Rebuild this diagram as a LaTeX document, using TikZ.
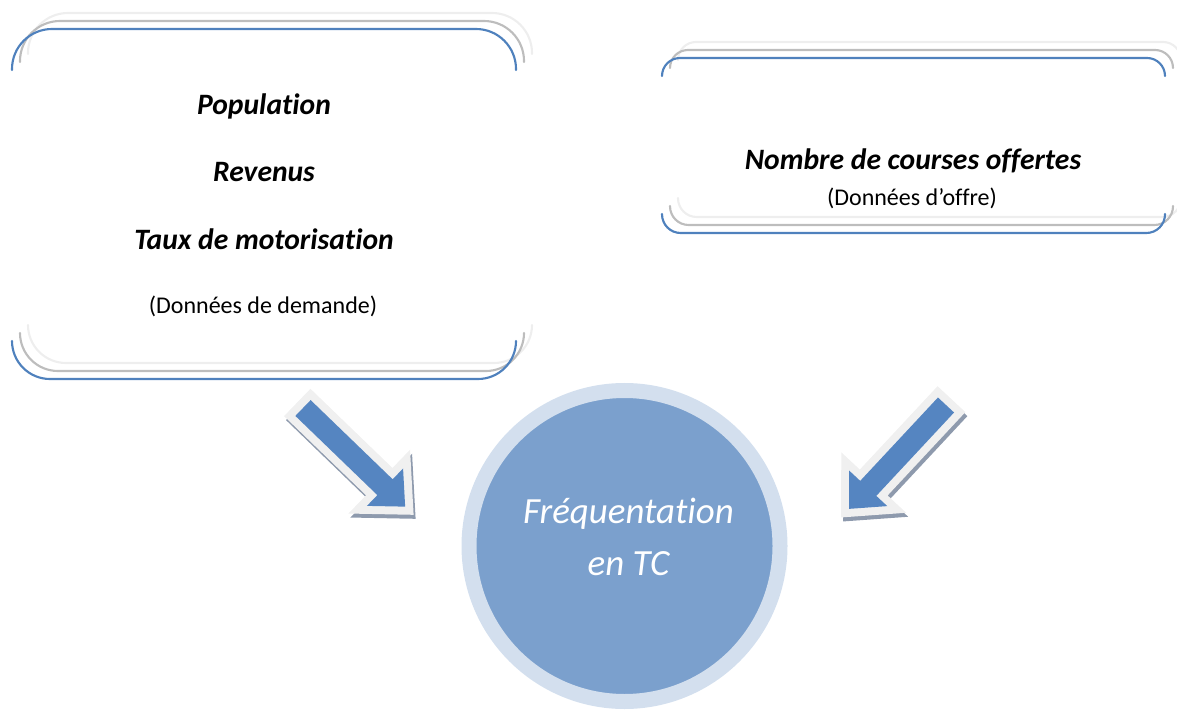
\documentclass[tikz,border=0pt]{standalone}
\usepackage{fontspec}
\setmainfont{Carlito}[Ligatures=CommonOff]
\usetikzlibrary{positioning, calc}

\definecolor{boxblue}{HTML}{4F81BD}
\definecolor{boxgray}{HTML}{BDBDBD}
\definecolor{boxlight}{HTML}{EEEEEE}
\definecolor{arrowfill}{HTML}{5585C1}
\definecolor{arrowglow}{HTML}{F0F0F0}
\definecolor{arrowshadow}{HTML}{8E9AAD}
\definecolor{ringlight}{HTML}{D3DFEE}
\definecolor{discblue}{HTML}{7BA0CD}

\begin{document}
\begin{tikzpicture}[
    x=0.75pt, y=-0.75pt,
    bracket/.style={line width=1.6pt, line cap=round},
    keytext/.style={font=\fontsize{22.2}{26}\selectfont\bfseries\itshape, anchor=base},
    srctext/.style={font=\fontsize{18}{22}\selectfont, anchor=base},
    glowline/.style={line width=12pt, line join=miter}
]
    \useasboundingbox (0,0) rectangle (1177,716);

    % === Demand box (three stacked outlines) ===
    \foreach \d/\c in {16/boxlight, 8/boxgray, 0/boxblue} {
        \draw[bracket, \c, rounded corners=30pt]
            ({12+\d},{70-\d}) -- ({12+\d},{29-\d}) -- ({516+\d},{29-\d}) -- ({516+\d},{70-\d});
        \draw[bracket, \c, rounded corners=28.5pt]
            ({12+\d},{341-\d}) -- ({12+\d},{379-\d}) -- ({516+\d},{379-\d}) -- ({516+\d},{341-\d});
    }
    \node[keytext] (pop) at (264,115) {Population};
    \node[keytext] (rev) at (264,182) {Revenus};
    \node[keytext] (taux) at (264,250) {Taux de motorisation};
    \node[srctext] (demande) at (263,314) {(Données de demande)};

    % === Supply box ===
    \foreach \d/\c in {16/boxlight, 8/boxgray, 0/boxblue} {
        \draw[bracket, \c, rounded corners=13.5pt]
            ({662+\d},{76-\d}) -- ({662+\d},{58-\d}) -- ({1165+\d},{58-\d}) -- ({1165+\d},{76-\d});
        \draw[bracket, \c, rounded corners=14pt]
            ({662+\d},{214-\d}) -- ({662+\d},{233-\d}) -- ({1165+\d},{233-\d}) -- ({1165+\d},{214-\d});
    }
    \node[keytext] (nombre) at (913,170) {Nombre de courses offertes};
    \node[srctext] (offre) at (912,206) {(Données d’offre)};

    % === Ridership disc ===
    \node[circle, draw=ringlight, fill=discblue, line width=11.25pt, minimum size=233.25pt] (freq) at (624.5,546) {};
    \node[font=\fontsize{27.7}{39}\selectfont\itshape, text=white, align=center] (freqtext)
        at ($(freq.center)+(4,-9)$) {Fréquentation\\en TC};

    % === Block arrows ===
    \coordinate (tailL) at (303,408);
    \coordinate (tailR) at (946,405);
    \foreach \t/\a in {tailL/-44, tailR/-133} {
        \begin{scope}[shift={($(\t)+(2,4)$)}, rotate=\a]
            \filldraw[arrowshadow, glowline]
                (0,11) -- (114,11) -- (114,26) -- (142,0) -- (114,-26) -- (114,-11) -- (0,-11) -- cycle;
        \end{scope}
        \begin{scope}[shift={(\t)}, rotate=\a]
            \filldraw[arrowglow, glowline]
                (0,11) -- (114,11) -- (114,26) -- (142,0) -- (114,-26) -- (114,-11) -- (0,-11) -- cycle;
            \fill[arrowfill]
                (0,11) -- (114,11) -- (114,26) -- (142,0) -- (114,-26) -- (114,-11) -- (0,-11) -- cycle;
        \end{scope}
    }
\end{tikzpicture}
\end{document}
